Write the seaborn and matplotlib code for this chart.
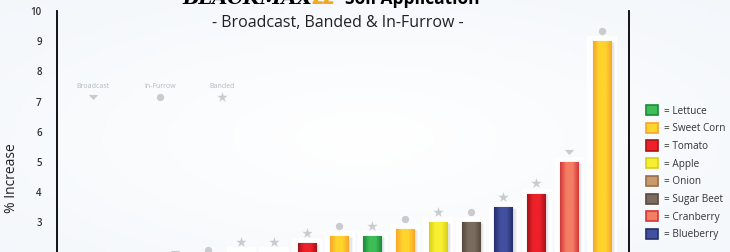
import numpy as np
import pandas as pd
import seaborn as sns
import matplotlib.pyplot as plt
from matplotlib.patches import Patch
from matplotlib.path import Path
from matplotlib.colors import LinearSegmentedColormap

# ---------------- data ----------------
trials = [f"Trial {i}" for i in range(1, 18)]
crops = ["Onion", "Lettuce", "Sugar Beet", "Onion", "Apple", "Lettuce", "Sweet Corn",
         "Tomato", "Sweet Corn", "Lettuce", "Sweet Corn", "Apple", "Sugar Beet",
         "Blueberry", "Tomato", "Cranberry", "Sweet Corn"]
increase = [1.0, 1.2, 1.4, 1.65, 1.75, 2.0, 2.0,
            2.31, 2.55, 2.55, 2.78, 3.0, 3.0, 3.5, 3.95, 5.0, 9.0]
methods = ["Banded", "In-Furrow", "Broadcast", "Broadcast", "In-Furrow", "Banded", "Banded",
           "Banded", "In-Furrow", "Banded", "In-Furrow", "Banded", "In-Furrow",
           "Banded", "Banded", "Broadcast", "In-Furrow"]

legend_crops = ["Lettuce", "Sweet Corn", "Tomato", "Apple", "Onion",
                "Sugar Beet", "Cranberry", "Blueberry"]
method_order = ["Broadcast", "In-Furrow", "Banded"]

yticks = [3, 4, 5, 6, 7, 8, 9, 10]

title_parts = ["BLACKMAX", "22", "Soil Application"]
subtitle = "- Broadcast, Banded & In-Furrow -"
ylabel = "% Increase"

# ---------------- styles ----------------
crop_edge = {"Lettuce": "#1b8a3a", "Sweet Corn": "#f7a52a", "Tomato": "#a5141b",
             "Apple": "#d6cf1c", "Onion": "#9c6d46", "Sugar Beet": "#574a3d",
             "Cranberry": "#d2383a", "Blueberry": "#262f6c"}
crop_center = {"Lettuce": "#3fbd57", "Sweet Corn": "#ffd42c", "Tomato": "#ee2129",
               "Apple": "#f9ef32", "Onion": "#c69c6d", "Sugar Beet": "#7a6c5e",
               "Cranberry": "#f47e63", "Blueberry": "#41509f"}
flat_tri = Path([(-1.0, 0.55), (1.0, 0.55), (0.0, -0.55), (-1.0, 0.55)],
                [Path.MOVETO, Path.LINETO, Path.LINETO, Path.CLOSEPOLY])
method_marker = {"Broadcast": flat_tri, "In-Furrow": "o", "Banded": "*"}
method_size = {"Broadcast": 45, "In-Furrow": 28, "Banded": 62}
marker_gray = "#c9cbce"

sns.set_theme(style="white")
plt.rcParams['font.family'] = ['Open Sans', 'DejaVu Sans']

W, H = 730, 252
fig = plt.figure(figsize=(W / 100, H / 100), dpi=100, facecolor="#f3f7fa")

# subtle background gradient
bg = fig.add_axes([0, 0, 1, 1], zorder=-5)
yy, xx = np.mgrid[0:1:60j, 0:1:200j]
grad = np.clip(0.55 * np.hypot((xx - 0.5) * 1.2, (yy - 0.55) * 1.1), 0, 1)
bg_cmap = LinearSegmentedColormap.from_list("bg", ["#ffffff", "#e6eef6"])
bg.imshow(grad, cmap=bg_cmap, aspect="auto", extent=[0, 1, 0, 1], vmin=0, vmax=1)
bg.axis("off")

x0, x1 = 57, 629
ytop, ybot = 11, 313
ax = fig.add_axes([x0 / W, 1 - ybot / H, (x1 - x0) / W, (ybot - ytop) / H])
ax.set_facecolor("none")

df = pd.DataFrame({"trial": trials, "crop": crops, "increase": increase, "method": methods})
pos = np.arange(len(df))

sns.barplot(data=df, x="trial", y="increase", hue="crop", hue_order=legend_crops,
            palette=crop_center, dodge=False, width=0.55, saturation=1,
            legend=False, ax=ax, zorder=3, linewidth=0.8)
for cont, crop in zip(ax.containers, legend_crops):
    for bar in cont:
        bar.set_edgecolor(crop_edge[crop])
        cmap = LinearSegmentedColormap.from_list(
            crop, [crop_edge[crop], crop_center[crop], crop_center[crop], crop_edge[crop]])
        bx, by = bar.get_x(), bar.get_y()
        bw, bh = bar.get_width(), bar.get_height()
        im = ax.imshow(np.linspace(0, 1, 64)[None, :], cmap=cmap, aspect="auto",
                       extent=[bx, bx + bw, by, by + bh], zorder=3.5)
        im.set_clip_path(bar)

# white glow and soft shadow behind bars
ax.bar(pos, df["increase"] + 0.17, width=0.88, color="white", alpha=0.85, zorder=1)
ax.bar(pos + 0.1, df["increase"] - 0.02, width=0.55, color="#9aa0a8", alpha=0.25, zorder=2)

# application markers above bars
for m in method_order:
    sub = df[df["method"] == m]
    ax.scatter(pos[sub.index], sub["increase"] + 0.34, marker=method_marker[m],
               s=method_size[m], color=marker_gray, linewidths=0, zorder=4)

ax.set_xlim(-0.61, 16.83)
ax.set_ylim(0, 10)
ax.set_yticks(yticks)
ax.set_yticklabels([str(t) for t in yticks])
ax.set_yticks([10], minor=True)
ax.tick_params(axis="y", which="major", length=0, pad=11, labelsize=7,
               labelcolor="#333333")
ax.tick_params(axis="y", which="minor", length=6, width=1.2, color="black")
for lab in ax.get_yticklabels():
    lab.set_fontweight("semibold")
ax.set_xticks([])
ax.set_xlabel("")
ax.set_ylabel(ylabel, fontsize=10, color="#222222")
ax.yaxis.set_label_coords(-0.066, 0.447)
for side in ["left", "right"]:
    ax.spines[side].set_visible(True)
    ax.spines[side].set_color("black")
    ax.spines[side].set_linewidth(1.3)
ax.spines["top"].set_visible(False)
ax.spines["bottom"].set_visible(False)

# titles
fig.text(182 / W, 1 - 4 / H, title_parts[0], fontsize=14, fontweight="heavy",
         style="italic", family="DejaVu Serif", color="black", va="baseline", ha="left")
fig.text(312 / W, 1 - 4 / H, title_parts[1], fontsize=14, fontweight="heavy",
         color="#f5a81c", va="baseline", ha="left")
fig.text(345 / W, 1 - 4 / H, title_parts[2], fontsize=12.5, fontweight="bold",
         color="black", va="baseline", ha="left")
fig.text(338 / W, 1 - 27 / H, subtitle, fontsize=11.5, color="#222222",
         va="baseline", ha="center")

# application key (top-left)
key_x = [93, 160, 222]
for m, kx in zip(method_order, key_x):
    fig.text(kx / W, 1 - 86 / H, m, fontsize=5, color="#b5b9be", ha="center", va="center")
    ax.scatter([kx / W], [1 - 97 / H], marker=method_marker[m], s=method_size[m],
               color=marker_gray, linewidths=0, transform=fig.transFigure, clip_on=False)

# crop legend (right)
handles = [Patch(facecolor=crop_center[c], edgecolor=crop_edge[c], linewidth=1.2)
           for c in legend_crops]
labels = [f"= {c}" for c in legend_crops]
fig.legend(handles, labels, loc="upper left", bbox_to_anchor=(646 / W, 1 - 105 / H),
           frameon=False, fontsize=7.2, handlelength=1.2, handleheight=1.2,
           handletextpad=0.6, labelspacing=0.62, borderpad=0, borderaxespad=0,
           labelcolor="#333333")

fig.savefig("out.png", dpi=100, facecolor=fig.get_facecolor())
